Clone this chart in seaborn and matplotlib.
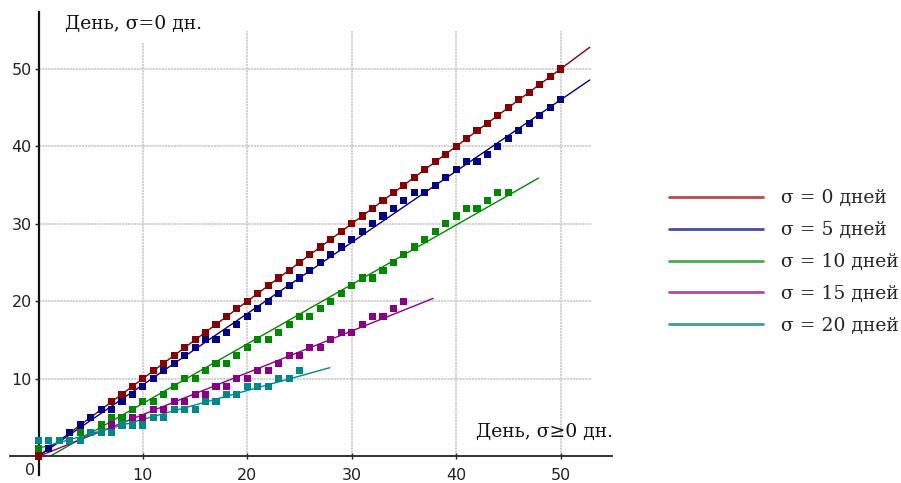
import numpy as np
import pandas as pd
import matplotlib
matplotlib.use("Agg")
import matplotlib.pyplot as plt
import seaborn as sns
from matplotlib.lines import Line2D

# ---- data ---------------------------------------------------------------
sigmas = [0, 5, 10, 15, 20]
series_labels = ["σ = 0 дней", "σ = 5 дней", "σ = 10 дней", "σ = 15 дней", "σ = 20 дней"]

days_s0 = [0, 1, 2, 3, 4, 5, 6, 7, 8, 9, 10, 11, 12, 13, 14, 15, 16, 17, 18, 19, 20,
           21, 22, 23, 24, 25, 26, 27, 28, 29, 30, 31, 32, 33, 34, 35, 36, 37, 38, 39, 40,
           41, 42, 43, 44, 45, 46, 47, 48, 49, 50]
vals_s0 = [0, 1, 2, 3, 4, 5, 6, 7, 8, 9, 10, 11, 12, 13, 14, 15, 16, 17, 18, 19, 20,
           21, 22, 23, 24, 25, 26, 27, 28, 29, 30, 31, 32, 33, 34, 35, 36, 37, 38, 39, 40,
           41, 42, 43, 44, 45, 46, 47, 48, 49, 50]

days_s5 = [1, 2, 3, 4, 5, 6, 7, 8, 9, 10, 11, 12, 13, 14, 15, 16, 17, 18, 19, 20,
           21, 22, 23, 24, 25, 26, 27, 28, 29, 30, 31, 32, 33, 34, 35, 36, 37, 38, 39, 40,
           41, 42, 43, 44, 45, 46, 47, 48, 49, 50]
vals_s5 = [1, 2, 3, 4, 5, 6, 6, 7, 8, 9, 10, 11, 12, 13, 14, 15, 15, 16, 17, 18,
           19, 20, 21, 22, 23, 24, 25, 26, 27, 28, 29, 30, 31, 32, 33, 34, 34, 35, 36, 37,
           38, 38, 39, 40, 41, 42, 43, 44, 45, 46]

days_s10 = [0, 4, 5, 6, 7, 8, 9, 10, 11, 12, 13, 14, 15, 16, 17, 18, 19, 20,
            21, 22, 23, 24, 25, 26, 27, 28, 29, 30, 31, 32, 33, 34, 35, 36, 37, 38, 39, 40,
            41, 42, 43, 44, 45]
vals_s10 = [1, 3, 3, 4, 5, 5, 6, 7, 7, 8, 9, 10, 10, 11, 12, 12, 13, 14,
            15, 15, 16, 17, 18, 18, 19, 20, 21, 22, 23, 23, 24, 25, 26, 27, 28, 29, 30, 31,
            32, 32, 33, 34, 34]

days_s15 = [3, 4, 5, 6, 7, 8, 9, 10, 11, 12, 13, 14, 15, 16, 17, 18, 19, 20,
            21, 22, 23, 24, 25, 26, 27, 28, 29, 30, 31, 32, 33, 34, 35]
vals_s15 = [2, 2, 3, 3, 4, 4, 5, 5, 6, 6, 7, 7, 8, 8, 9, 9, 10, 10,
            11, 11, 12, 13, 13, 14, 14, 15, 16, 16, 17, 18, 18, 19, 20]

days_s20 = [0, 1, 2, 3, 4, 5, 6, 7, 8, 9, 10, 11, 12, 13, 14, 15, 16, 17, 18, 19, 20,
            21, 22, 23, 24, 25]
vals_s20 = [2, 2, 2, 2, 2, 3, 3, 3, 4, 4, 4, 5, 5, 6, 6, 6, 7, 7, 8, 8, 9,
            9, 9, 10, 10, 11]

# linear trend of each series: slope, intercept and the last day it is drawn to
trend_slope = [1.0, 0.92, 0.768, 0.54, 0.373]
trend_intercept = [0.0, 0.0, -0.88, -0.05, 1.0]
trend_end = [52.8, 52.8, 47.9, 37.8, 27.9]

tick_values = [10, 20, 30, 40, 50]

marker_colors = ["#880000", "#000088", "#008800", "#880088", "#008888"]
legend_colors = ["#b84a4a", "#4a4aaa", "#4aaa4a", "#aa4aaa", "#3a9e9e"]

# ---- tables -------------------------------------------------------------
all_days = [days_s0, days_s5, days_s10, days_s15, days_s20]
all_vals = [vals_s0, vals_s5, vals_s10, vals_s15, vals_s20]

points = pd.concat(
    [pd.DataFrame({"day": d, "value": v, "series": lab})
     for d, v, lab in zip(all_days, all_vals, series_labels)],
    ignore_index=True,
)

trend_rows = []
for a, b, end, lab in zip(trend_slope, trend_intercept, trend_end, series_labels):
    start = max(0.0, -b / a)
    for xx in (start, end):
        trend_rows.append({"day": xx, "value": a * xx + b, "series": lab})
trends = pd.DataFrame(trend_rows)

# ---- figure -------------------------------------------------------------
sns.set_theme(style="white")
plt.rcParams["font.family"] = ["DejaVu Sans"]

W, H = 901, 483
fig = plt.figure(figsize=(W / 100, H / 100), dpi=100)
ax = fig.add_axes([10 / W, 1 - 475 / H, 602 / W, 463 / H])
ax.set_xlim(-2.73, 54.93)
ax.set_ylim(-2.455, 57.36)

# dotted grid inside the positive quadrant
grid_style = dict(colors="#cdcdcd", linestyles=(0, (1.2, 0.5)), lw=1.3, zorder=0)
ax.vlines(tick_values, 0, 54.9, **grid_style)
ax.hlines(tick_values, 0, 52.9, **grid_style)

palette = dict(zip(series_labels, marker_colors))
sns.lineplot(data=trends, x="day", y="value", hue="series", palette=palette,
             estimator=None, sort=False, lw=1.0, legend=False, ax=ax, zorder=2)
sns.scatterplot(data=points, x="day", y="value", hue="series", palette=palette,
                marker="s", s=26, linewidth=0, legend=False, ax=ax, zorder=3)

# axes crossing at the origin
for side in ("top", "right"):
    ax.spines[side].set_visible(False)
ax.spines["left"].set_position(("data", 0))
ax.spines["bottom"].set_position(("data", 0))
ax.spines["left"].set_color("#111111")
ax.spines["bottom"].set_color("#333333")
ax.spines["left"].set_linewidth(1.6)
ax.spines["bottom"].set_linewidth(1.4)

ax.set_xticks(tick_values)
ax.set_yticks(tick_values)
ax.tick_params(axis="x", direction="inout", length=5, width=1, pad=6,
               labelsize=11.5, colors="#222222", bottom=True)
ax.tick_params(axis="y", direction="out", length=3, width=1, pad=1.8,
               labelsize=11.5, colors="#222222", left=True)
ax.set_xlabel("")
ax.set_ylabel("")
ax.annotate("0", (0, 0), xytext=(-2.5, -5), textcoords="offset points",
            ha="right", va="top", fontsize=11.5, color="#222222")

serif = ["DejaVu Serif"]
ax.text(2.5, 55.8, "День, σ=0 дн.", family=serif, fontsize=13.5, ha="left", va="center",
        color="#111111", zorder=4,
        bbox=dict(facecolor="white", edgecolor="none", pad=7))
ax.text(55.0, 3.1, "День, σ≥0 дн.", family=serif, fontsize=13.5, ha="right", va="center",
        color="#111111", clip_on=False, zorder=4)

handles = [Line2D([], [], color=c, lw=2) for c in legend_colors]
fig.legend(handles, series_labels, loc="upper left", bbox_to_anchor=(660 / W, 1 - 180 / H),
           frameon=False, prop={"family": serif, "size": 13.5}, handlelength=5.0,
           handletextpad=0.95, labelspacing=0.74, borderpad=0)

fig.savefig("out.png", dpi=100)
